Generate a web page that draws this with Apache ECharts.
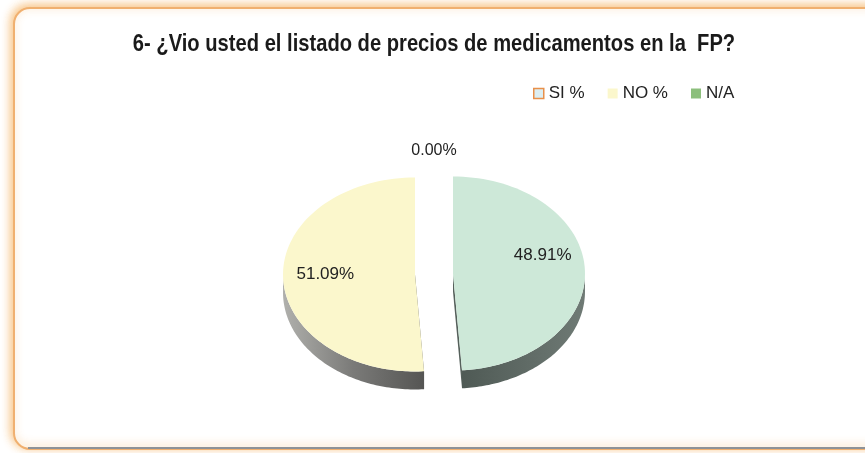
<!DOCTYPE html>
<html>
<head>
<meta charset="utf-8">
<script src="https://cdn.jsdelivr.net/npm/echarts@6/dist/echarts.min.js"></script>
<style>
  html, body { margin: 0; padding: 0; background: #fff; }
  #main { width: 865px; height: 453px; }
</style>
</head>
<body>
<div id="main"></div>
<script>
// datos de la pregunta 6
var categories = ['SI %', 'NO %', 'N/A'];
var values = [48.91, 51.09, 0.00];
var sliceColors = ['#CDE8D8', '#FBF7CC', '#8CBF7C'];
var titleText = '6- ¿Vio usted el listado de precios de medicamentos en la  FP?';

var cx = 434, cy = 274, rx = 132, ry = 97, depth = 18, explode = 19;
var total = values.reduce(function (a, b) { return a + b; }, 0);

function pt(theta, ox, oy, dz) {
    return [cx + ox + rx * Math.sin(theta), cy + oy - ry * Math.cos(theta) + dz];
}

function renderSlice(params, api) {
    var i = params.seriesIndex;
    var before = 0;
    for (var k = 0; k < i; k++) before += values[k];
    var start = before / total * Math.PI * 2;
    var end = start + values[i] / total * Math.PI * 2;
    var mid = (start + end) / 2;
    var ox = explode * Math.sin(mid);
    var oy = -explode * Math.cos(mid) * ry / rx;
    var children = [];
    var txt = values[i].toFixed(2) + '%';

    if (values[i] === 0) {
        var lp = [cx + (rx + 26) * Math.sin(mid), cy - (ry + 26) * Math.cos(mid)];
        children.push({
            type: 'text',
            style: { text: txt, x: lp[0], y: lp[1], align: 'center', verticalAlign: 'middle',
                     fontSize: 16, fontFamily: 'Liberation Sans, Arial', fill: '#222' }
        });
        return { type: 'group', children: children };
    }

    var steps = 80, j, t;
    // caras de corte
    [start, end].forEach(function (a) {
        var e = pt(a, ox, oy, 0);
        children.push({
            type: 'polygon',
            shape: { points: [[cx + ox, cy + oy], e, [e[0], e[1] + depth], [cx + ox, cy + oy + depth]] },
            style: { fill: i === 0 ? '#55605b' : '#5f5f5d' }
        });
    });
    // lado frontal
    var a0 = Math.max(start, Math.PI / 2), a1 = Math.min(end, Math.PI * 1.5);
    if (a1 > a0) {
        var side = [];
        for (j = 0; j <= steps; j++) { t = a0 + (a1 - a0) * j / steps; side.push(pt(t, ox, oy, 0)); }
        for (j = steps; j >= 0; j--) { t = a0 + (a1 - a0) * j / steps; side.push(pt(t, ox, oy, depth)); }
        children.push({
            type: 'polygon',
            shape: { points: side },
            style: {
                fill: i === 0
                    ? new echarts.graphic.LinearGradient(0, 0, 1, 0, [{ offset: 0, color: '#4f5a55' }, { offset: 1, color: '#6f7a75' }])
                    : new echarts.graphic.LinearGradient(0, 0, 1, 0, [{ offset: 0, color: '#b0b0ac' }, { offset: 0.5, color: '#7a7a78' }, { offset: 1, color: '#555553' }])
            }
        });
    }
    // cara superior
    var top = [[cx + ox, cy + oy]];
    for (j = 0; j <= steps; j++) { t = start + (end - start) * j / steps; top.push(pt(t, ox, oy, 0)); }
    children.push({
        type: 'polygon',
        shape: { points: top },
        style: { fill: api.visual('color') }
    });
    var lr = 0.68;
    children.push({
        type: 'text',
        style: {
            text: txt,
            x: cx + ox + rx * lr * Math.sin(mid),
            y: cy + oy - ry * lr * Math.cos(mid) + (i === 0 ? -16 : -2),
            align: 'center', verticalAlign: 'middle',
            fontSize: 17, fontFamily: 'Liberation Sans, Arial', fill: '#222'
        }
    });
    return { type: 'group', children: children };
}

var myChart = echarts.init(document.getElementById('main'));//contenedor

var seriesList = [];
for (var s = 0; s < categories.length; s++) {
    seriesList.push({
        name: categories[s],
        type: 'custom',
        coordinateSystem: 'none',
        itemStyle: { color: sliceColors[s] },
        renderItem: renderSlice,
        data: [[values[s]]]
    });
}

myChart.setOption({
    animation: false,
    legend: {
        left: 528,
        top: 80,
        itemWidth: 10,
        itemHeight: 10,
        itemGap: 23,
        textStyle: { fontFamily: 'Liberation Sans, Arial', fontSize: 17, color: '#222' },
        data: [
            { name: 'SI %', icon: 'rect', itemStyle: { color: '#DCEEF2', borderColor: '#E8904A', borderWidth: 1.5 } },
            { name: 'NO %', icon: 'rect' },
            { name: 'N/A', icon: 'rect' }
        ]
    },
    graphic: [
        {
            type: 'rect', z: -10,
            shape: { x: 14, y: 8, width: 880, height: 441, r: 16 },
            style: { fill: '#fff', stroke: '#F0B070', lineWidth: 2, shadowBlur: 10, shadowColor: 'rgba(245,175,90,0.8)', shadowOffsetX: -2, shadowOffsetY: -2 }
        },
        {
            type: 'line', z: -9,
            shape: { x1: 28, y1: 448, x2: 865, y2: 448 },
            style: { stroke: '#8e9398', lineWidth: 2 }
        },
        {
            // titulo condensado
            type: 'text', z: 10,
            x: 434, y: 44, scaleX: 0.84,
            style: {
                text: titleText, align: 'center', verticalAlign: 'middle',
                fontFamily: 'Liberation Sans, Arial', fontWeight: 'bold', fontSize: 24, fill: '#1a1a1a'
            }
        }
    ],
    series: seriesList
});
</script>
</body>
</html>
